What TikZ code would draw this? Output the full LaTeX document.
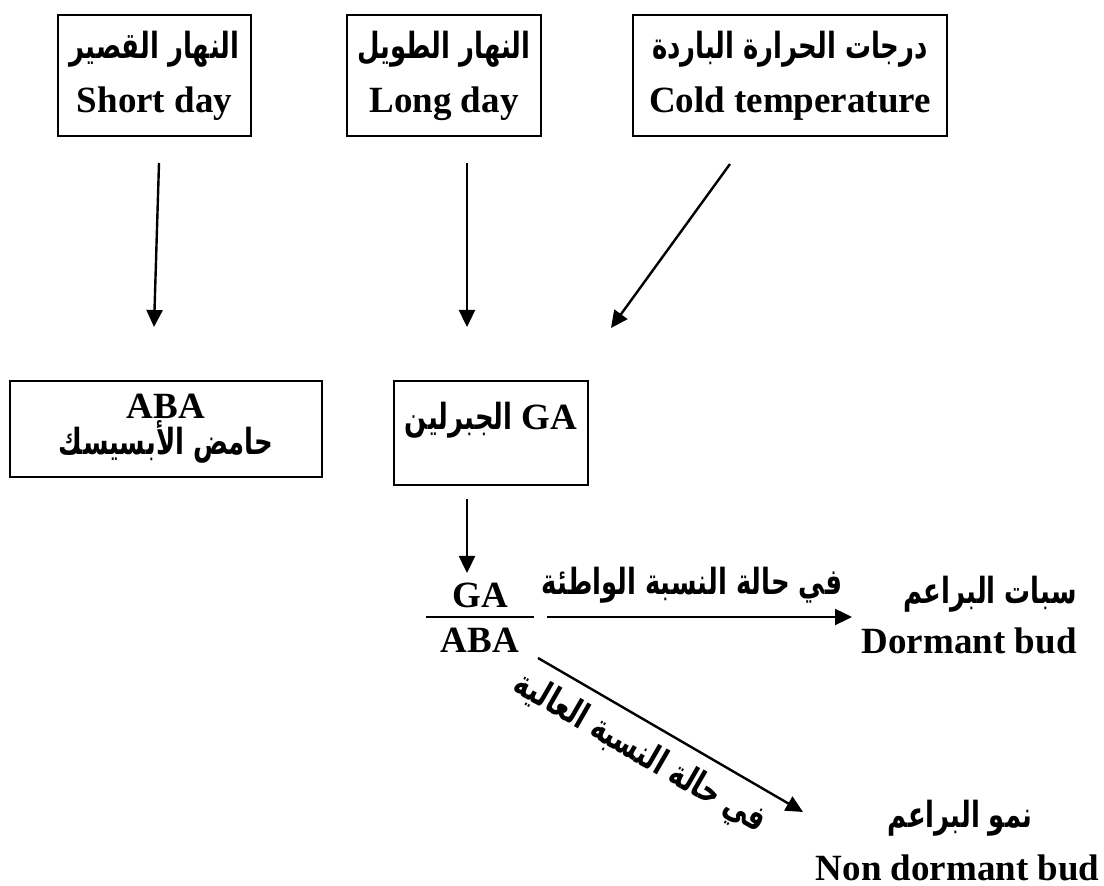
\documentclass[tikz,border=0pt]{standalone}
\usepackage{graphicx}
\usepackage{fontspec}
\setmainfont{Liberation Serif}
\newfontfamily\arabicfont[Script=Arabic]{DejaVu Sans}
\TeXXeTstate=1
\usetikzlibrary{arrows.meta,positioning}

% narrow bold Arabic run
\newcommand{\arab}[1]{\scalebox{0.72}[1]{\arabicfont\fontsize{18}{18}\selectfont\beginR #1\endR}}

\begin{document}
\begin{tikzpicture}[x=0.5pt, y=-0.5pt,
    box/.style={rectangle, draw, line width=1pt, align=center, inner sep=0pt,
        font=\fontsize{18.5}{27}\selectfont\bfseries},
    txt/.style={align=center, inner sep=0pt, font=\fontsize{18.5}{25}\selectfont\bfseries},
    arrow/.style={-{Triangle[length=8.5pt,width=8pt]}, line width=1.2pt}
]
\useasboundingbox (0,0) rectangle (1104,886);

% Day length and temperature
\node[box, minimum width=96.5pt, minimum height=60.5pt] (short) at (154.5,75.5) {\arab{النهار القصير}\\Short day};
\node[box, minimum width=97pt, minimum height=60.5pt] (long) at (444,75.5) {\arab{النهار الطويل}\\Long day};
\node[box, minimum width=157pt, minimum height=60.5pt] (cold) at (790,75.5) {\arab{درجات الحرارة الباردة}\\Cold temperature};

% Hormones
\node[box, minimum width=156pt, minimum height=48pt, font=\fontsize{18.5}{16}\selectfont\bfseries] (aba) at (166,429) {ABA\\\arab{حامض الأبسيسك}};
\node[box, minimum width=97pt, text height=24.5pt, text depth=27.5pt] (ga) at (491,433) {\arab{الجبرلين} GA};

% Ratio GA/ABA
\node[inner sep=0pt, minimum width=54pt] (ratio) at (480,617) {};
\draw[line width=1.2pt] (ratio.west) -- (ratio.east);
\node[txt] (ganum) at (480,595) {GA};
\node[txt] (abaden) at (480,640) {ABA};

% Bud states
\node[txt, align=right, anchor=east] (dormant) at (1077,615) {\arab{سبات البراعم}\\Dormant bud};
\node[txt] (growar) at (960,818) {\arab{نمو البراعم}};
\node[txt, anchor=east] (growen) at (1100,868) {Non dormant bud};

% Arrow ends
\coordinate (sd1) at (159,163);
\coordinate (sd2) at (154,327);
\coordinate (ld1) at (467,163);
\coordinate (ld2) at (467,327);
\coordinate (ct1) at (730,164);
\coordinate (ct2) at (611,328);
\coordinate (ga1) at (467,499);
\coordinate (ga2) at (467,573);
\coordinate (lo1) at (547,617);
\coordinate (lo2) at (852,617);
\coordinate (hi1) at (538,658);
\coordinate (hi2) at (803,812);

% Arrows
\draw[arrow] (sd1) -- (sd2);
\draw[arrow] (ld1) -- (ld2);
\draw[arrow] (ct1) -- (ct2);
\draw[arrow] (ga1) -- (ga2);
\draw[arrow] (lo1) -- (lo2);
\draw[arrow] (hi1) -- (hi2);

% Ratio labels
\node[txt] (lowlbl) at (692,585) {\arab{في حالة النسبة الواطئة}};
\node[txt, rotate=-30] (highlbl) at (640,754) {\arab{في حالة النسبة العالية}};
\end{tikzpicture}
\end{document}
